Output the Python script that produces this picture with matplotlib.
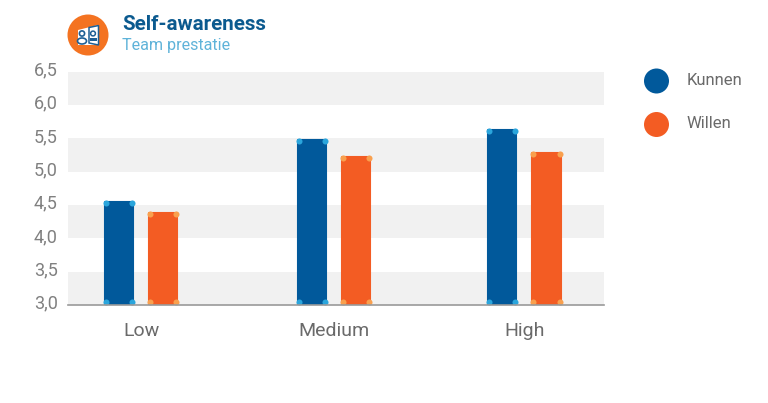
import numpy as np
import matplotlib
matplotlib.use('Agg')
import matplotlib.pyplot as plt
from matplotlib.patches import Circle, Polygon, Rectangle, Ellipse
from matplotlib.transforms import ScaledTranslation

plt.rcParams['font.family'] = ['Roboto', 'DejaVu Sans']

# data
categories = ['Low', 'Medium', 'High']
kunnen = [4.54, 5.47, 5.62]
willen = [4.38, 5.22, 5.28]
yticks = [3.0, 3.5, 4.0, 4.5, 5.0, 5.5, 6.0, 6.5]
ytick_labels = ['3,0', '3,5', '4,0', '4,5', '5,0', '5,5', '6,0', '6,5']
series_names = ['Kunnen', 'Willen']

BLUE = '#01599b'
ORANGE = '#f35c23'
W, H = 768, 403

fig = plt.figure(figsize=(W / 100, H / 100), dpi=100, facecolor='white')


# helper: axes placed by pixel box (y measured from the top)
def px_axes(x0, y0, x1, y1):
    return fig.add_axes([x0 / W, 1 - y1 / H, (x1 - x0) / W, (y1 - y0) / H])


ax = px_axes(68, 71.5, 604, 305)
ax.set_xlim(-0.38, 2.41)
ax.set_ylim(3.0, 6.5)

# grey bands every second step
for lo in [3.0, 4.0, 5.0, 6.0]:
    ax.axhspan(lo, lo + 0.5, color='#f1f1f1', lw=0, zorder=0)

x = np.array([0, 1.005, 1.995])
width = 0.148
offset = 0.115
inset_x = 0.005
inset_y = 0.015


def draw_bars(xpos, vals, color, dot):
    ax.bar(xpos, vals, width=width, bottom=0, color=color, edgecolor=color,
           linewidth=1.5, joinstyle='round', zorder=2)
    # little dots on the bar corners
    for xi, v in zip(xpos, vals):
        for xc in (xi - width / 2 + inset_x, xi + width / 2 - inset_x):
            ax.scatter([xc, xc], [v - inset_y, 3.04], s=19, color=dot, lw=0, zorder=3, clip_on=False)


draw_bars(x - offset, kunnen, BLUE, '#2aa5dc')
draw_bars(x + offset, willen, ORANGE, '#f9a04e')

for s in ['top', 'right', 'left']:
    ax.spines[s].set_visible(False)
ax.spines['bottom'].set_color('#9a9a9a')
ax.spines['bottom'].set_linewidth(1.2)
ax.spines['bottom'].set_zorder(4)

ax.set_yticks(yticks)
ax.set_yticklabels(ytick_labels, fontsize=13, color='#808080')
ax.tick_params(axis='y', length=0, pad=7.5)
ax.set_xticks(x)
ax.set_xticklabels(categories, fontsize=14, color='#6a6a6a')
ax.tick_params(axis='x', length=0, pad=12.5)

# y labels sit a little above their band edge
for lab in ax.get_yticklabels():
    lab.set_transform(lab.get_transform() + ScaledTranslation(0, 3.2 / 100, fig.dpi_scale_trans))

# overlay in pixel coordinates for the header and legend
ov = fig.add_axes([0, 0, 1, 1], zorder=5)
ov.set_xlim(0, W)
ov.set_ylim(H, 0)
ov.axis('off')

ov.text(122, 25, 'Self-awareness', fontsize=14.8, fontweight='bold', color='#0b5a8f', va='center')
ov.text(122, 45.5, 'Team prestatie', fontsize=11.6, color='#5fb3d9', va='center')

# icon
ov.add_patch(Circle((88, 35), 20.5, color='#f47321', lw=0))
ov.add_patch(Polygon([[78, 30], [98, 25], [98, 45], [78, 45]], closed=True, fc='white', ec='none'))
ov.add_patch(Polygon([[89, 27.5], [98.5, 25.5], [98.5, 45], [89, 43]], closed=True, fc='none', ec='#1d5f95', lw=1.1))
ov.add_patch(Circle((93, 33.5), 2.4, fc='none', ec='#1d5f95', lw=1.1))
ov.add_patch(Rectangle((90, 38), 6.5, 3, fc='#1d5f95', ec='none'))
ov.add_patch(Circle((82, 33.5), 2.6, fc='none', ec='#1d5f95', lw=1.2))
ov.add_patch(Ellipse((82, 41), 9, 6, fc='none', ec='#1d5f95', lw=1.2))

# legend
for name, col, y in zip(series_names, [BLUE, ORANGE], [81, 124.5]):
    ov.add_patch(Circle((656.5, y), 12.5, color=col, lw=0))
    ov.text(686.5, y - 0.5, name, fontsize=12, color='#6a6a6a', va='center')

fig.savefig('out.png', dpi=100)
